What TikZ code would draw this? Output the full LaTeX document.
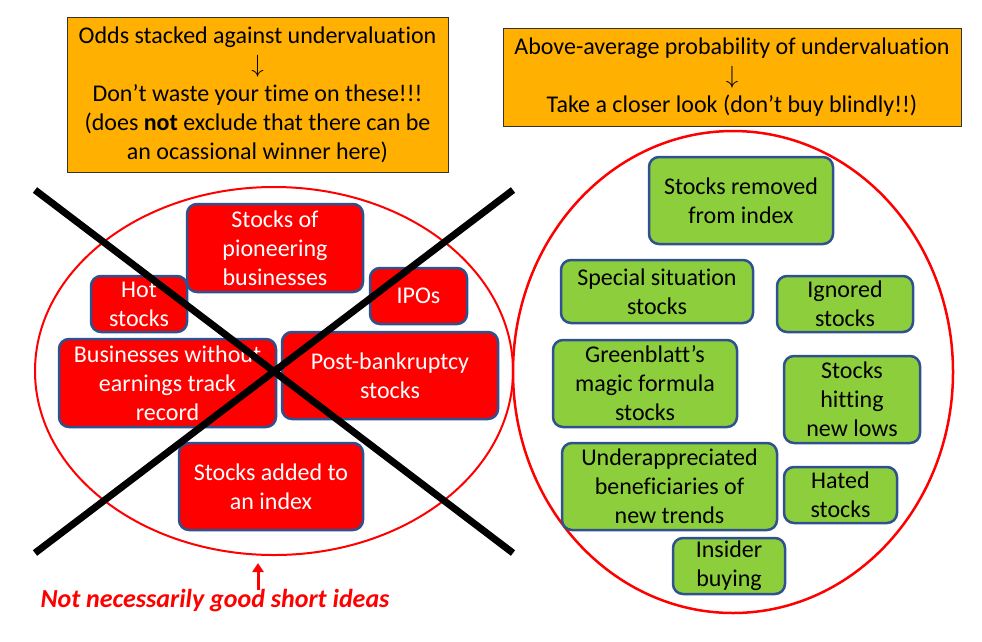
\documentclass[tikz,border=0pt]{standalone}
\usepackage{fontspec}
\setmainfont{Carlito}[Ligatures={NoCommon}]
\usetikzlibrary{arrows.meta}
\definecolor{boxblue}{RGB}{47,82,143}
\definecolor{oddsorange}{RGB}{255,176,0}
\definecolor{valuegreen}{RGB}{140,206,60}

\begin{document}
\begin{tikzpicture}[x=1pt,y=-1pt,
					every node/.style={font=\fontsize{24}{29}\selectfont,align=center,inner sep=0pt},
					notebox/.style={draw=black!80,line width=1pt,fill=oddsorange},
					avoidbox/.style={draw=boxblue,line width=2.5pt,fill=red,text=white,rounded corners=10pt},
					lookbox/.style={draw=boxblue,line width=2.5pt,fill=valuegreen,rounded corners=10pt}]
					\useasboundingbox (0,0) rectangle (982,641);
					\draw[red,line width=2pt] (274,371) ellipse [x radius=239,y radius=184];
					\draw[red,line width=2.5pt] (733,372) ellipse [x radius=220,y radius=241];
					\node[notebox,minimum width=381,minimum height=155] (odds) at (257.5,94.5)
					{Odds stacked against undervaluation\\ $\downarrow$\\ Don’t waste your time on these!!!\\
					(does \textbf{not} exclude that there can be\\ an ocassional winner here)};
					\node[notebox,minimum width=458,minimum height=98] (proba) at (732,77)
					{Above-average probability of undervaluation\\ $\downarrow$\\ Take a closer look (don’t buy blindly!!)};
					\node[avoidbox,minimum width=176,minimum height=88] (pioneer) at (275,248) {Stocks of\\ pioneering\\ businesses};
					\node[avoidbox,minimum width=96,minimum height=56] (hot) at (139,304) {Hot\\ stocks};
					\node[avoidbox,minimum width=97,minimum height=56] (ipo) at (418.5,296) {IPOs};
					\node[avoidbox,minimum width=217,minimum height=88] (noearn) at (167.5,383) {Businesses without\\ earnings track\\ record};
					\node[avoidbox,minimum width=216,minimum height=87] (bankrupt) at (390,375.5) {Post-bankruptcy\\ stocks};
					\node[avoidbox,minimum width=184,minimum height=87] (added) at (271,486.5) {Stocks added to\\ an index};
					\draw[line width=7pt] (35,190) -- (513,553);
					\draw[line width=7pt] (35,553) -- (513,190);
					\node[lookbox,minimum width=184,minimum height=87] (removed) at (741,200.5) {Stocks removed\\ from index};
					\node[lookbox,minimum width=192,minimum height=63] (special) at (657,291.5) {Special situation\\ stocks};
					\node[lookbox,minimum width=136,minimum height=56] (ignored) at (845,304) {Ignored\\ stocks};
					\node[lookbox,minimum width=184,minimum height=87] (greenblatt) at (645,383.5) {Greenblatt’s\\ magic formula\\ stocks};
					\node[lookbox,minimum width=136,minimum height=87] (newlows) at (852,399.5) {Stocks\\ hitting\\ new lows};
					\node[lookbox,minimum width=215,minimum height=87] (trends) at (669.5,486.5) {Underappreciated\\ beneficiaries of\\ new trends};
					\node[lookbox,minimum width=113,minimum height=56] (hated) at (840.5,495) {Hated\\ stocks};
					\node[lookbox,minimum width=112,minimum height=56] (insider) at (729,566) {Insider\\ buying};
					\node[text=red,font=\fontsize{26}{31}\selectfont\bfseries\itshape] (shortnote) at (215,601) {Not necessarily good short ideas};
					\coordinate (ellbottom) at (258,563);
					\draw[red,line width=3pt,-{Triangle[width=11pt,length=9pt]}] (shortnote.north -| ellbottom) -- (ellbottom);
					\end{tikzpicture}
\end{document}
